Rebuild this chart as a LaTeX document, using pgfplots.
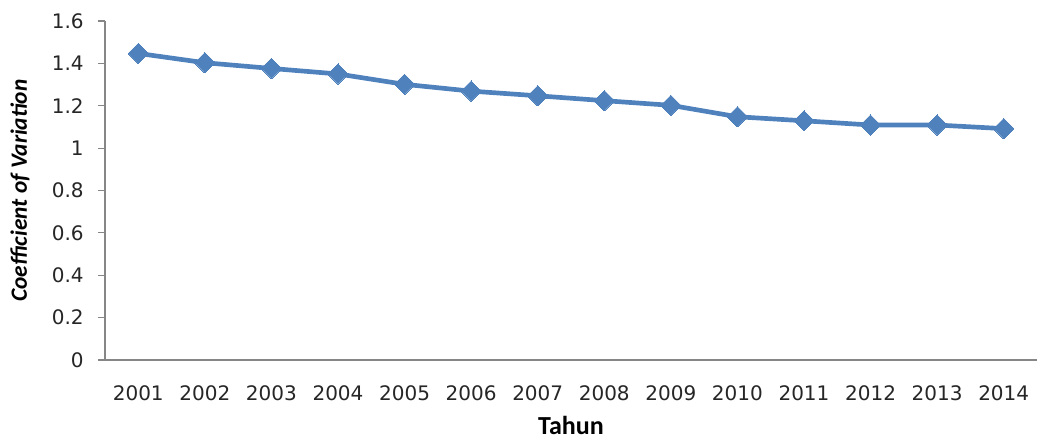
\documentclass[border=0pt]{standalone}
\usepackage{pgfplots}
\pgfplotsset{compat=1.18}
\usepackage{fontspec}
\setmainfont{DejaVu Sans}
\newfontfamily\labelfont{Carlito}
\definecolor{serieblue}{HTML}{4F81BD}
\definecolor{axisgray}{HTML}{868686}
\begin{document}
\begin{tikzpicture}[x=0.75pt,y=0.75pt]
\begin{axis}[
	at = {(0,0)},
	anchor = south west,
	scale only axis,
	width = 699pt,
	height = 254.25pt,
	xmin = 2000.5, xmax = 2014.5,
	ymin = 0, ymax = 1.6,
	xtick = {2001,2002,2003,2004,2005,2006,2007,2008,2009,2010,2011,2012,2013,2014},
	xticklabels = {2001,2002,2003,2004,2005,2006,2007,2008,2009,2010,2011,2012,2013,2014},
	ytick = {0,0.2,0.4,0.6,0.8,1,1.2,1.4,1.6},
	yticklabels = {0,0.2,0.4,0.6,0.8,1,1.2,1.4,1.6},
	axis x line* = bottom,
	axis y line* = left,
	axis line style = {axisgray, line width = 0.9pt, -},
	x tick style = {draw = none},
	y tick style = {axisgray, line width = 0.9pt},
	tick align = outside,
	major tick length = 5.5pt,
	ticklabel style = {font = \fontsize{15}{18}\selectfont, text = black!85},
	yticklabel style = {xshift = -7pt},
	xticklabel style = {yshift = -10pt},
	xlabel = {\labelfont\bfseries Tahun},
	ylabel = {\labelfont\bfseries\itshape Coefficient of Variation},
	xlabel style = {font = \fontsize{19.5}{22}\selectfont, inner sep = 0pt, at = {(axis description cs:0.5,0)}, anchor = base, yshift = -55.5pt},
	ylabel style = {font = \fontsize{17.5}{20}\selectfont, at = {(axis description cs:-0.0912,0.5)}, anchor = center},
	clip = false
]
\addplot[serieblue, line width = 3.5pt, mark = square*, mark size = 5.4pt,
	mark options = {rotate = 45, fill = serieblue, draw = serieblue, line width = 0pt}]
	coordinates {
	(2001, 1.447)
	(2002, 1.403)
	(2003, 1.376)
	(2004, 1.350)
	(2005, 1.301)
	(2006, 1.269)
	(2007, 1.247)
	(2008, 1.224)
	(2009, 1.202)
	(2010, 1.148)
	(2011, 1.129)
	(2012, 1.109)
	(2013, 1.109)
	(2014, 1.092)
};
\end{axis}
\pgfresetboundingbox
\path[use as bounding box] (-105,-79) rectangle (934,360);
\end{tikzpicture}
\end{document}
